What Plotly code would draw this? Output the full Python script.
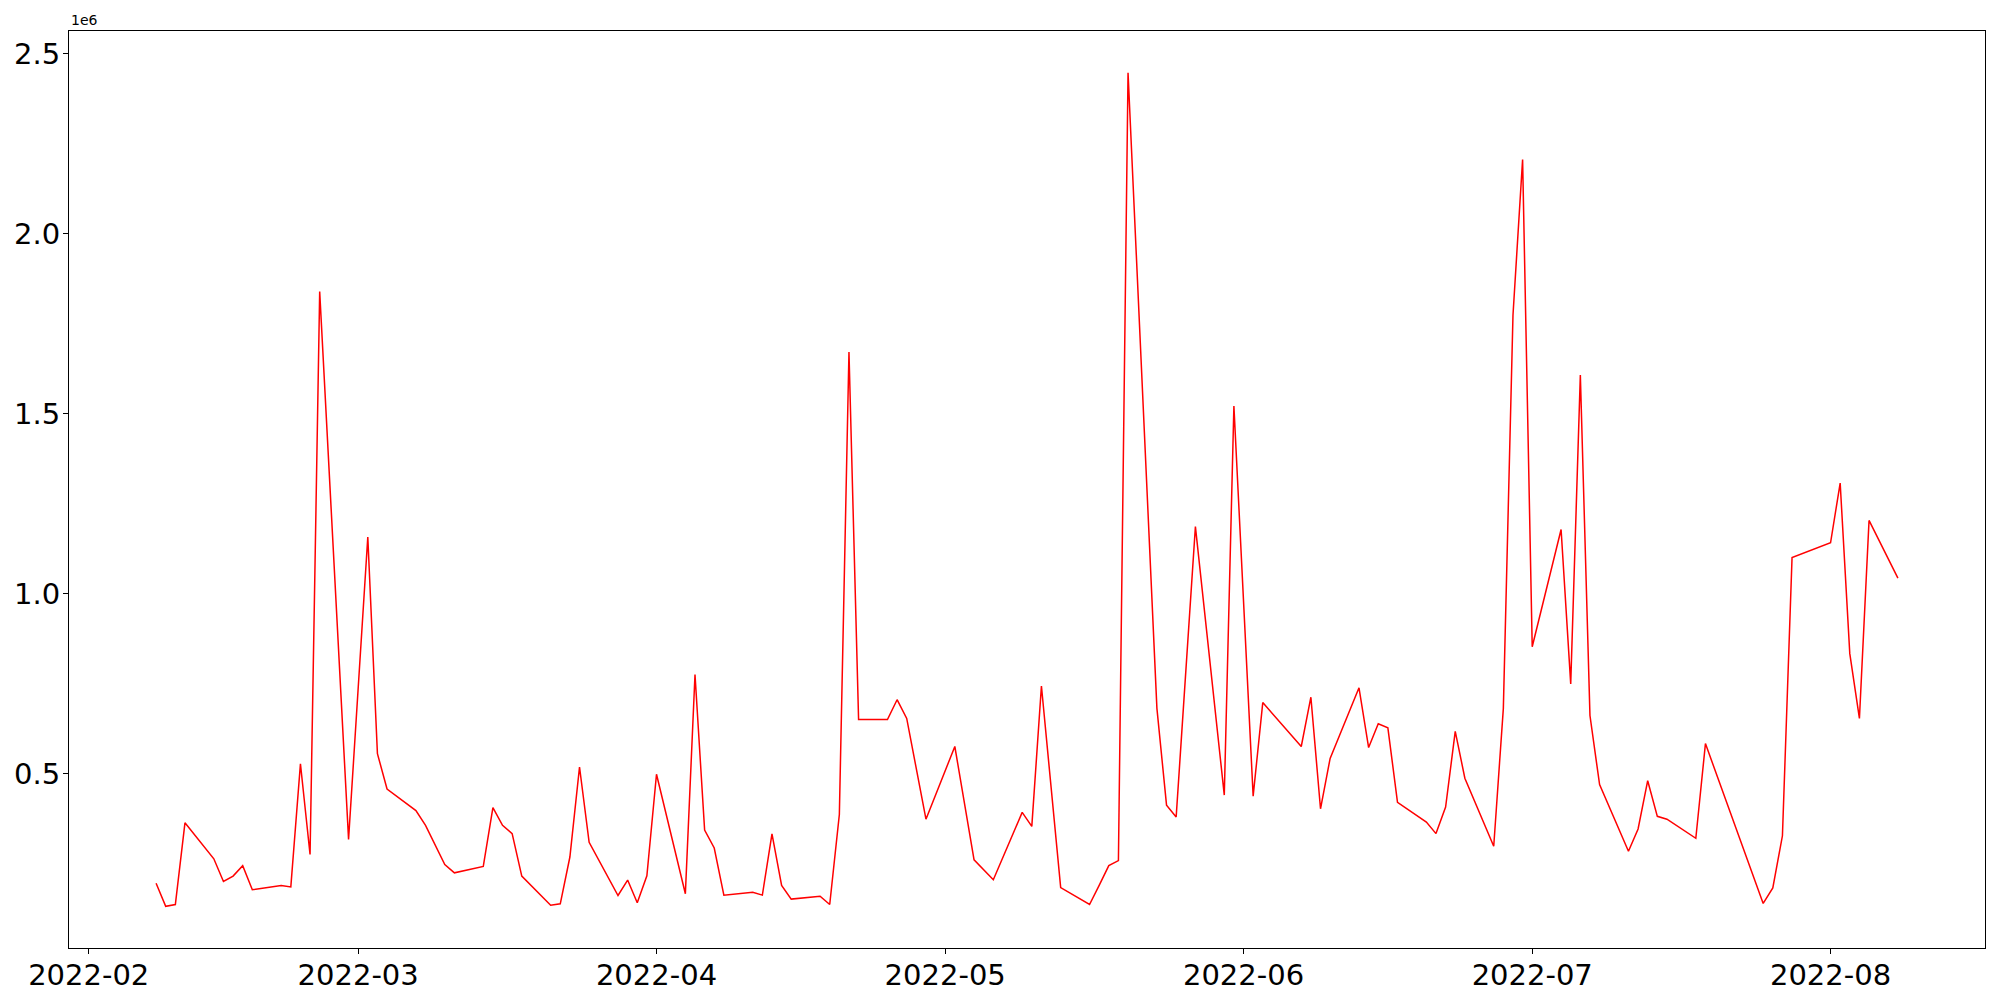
import plotly.graph_objects as go

dates = [
    "2022-02-08", "2022-02-09", "2022-02-10", "2022-02-11", "2022-02-14", "2022-02-15",
    "2022-02-16", "2022-02-17", "2022-02-18", "2022-02-21", "2022-02-22", "2022-02-23",
    "2022-02-24", "2022-02-25", "2022-02-28", "2022-03-02", "2022-03-03", "2022-03-04",
    "2022-03-07", "2022-03-08", "2022-03-10", "2022-03-11", "2022-03-14", "2022-03-15",
    "2022-03-16", "2022-03-17", "2022-03-18", "2022-03-21", "2022-03-22", "2022-03-23",
    "2022-03-24", "2022-03-25", "2022-03-28", "2022-03-29", "2022-03-30", "2022-03-31",
    "2022-04-01", "2022-04-04", "2022-04-05", "2022-04-06", "2022-04-07", "2022-04-08",
    "2022-04-11", "2022-04-12", "2022-04-13", "2022-04-14", "2022-04-15", "2022-04-18",
    "2022-04-19", "2022-04-20", "2022-04-21", "2022-04-22", "2022-04-25", "2022-04-26",
    "2022-04-27", "2022-04-29", "2022-05-02", "2022-05-04", "2022-05-06", "2022-05-09",
    "2022-05-10", "2022-05-11", "2022-05-13", "2022-05-16", "2022-05-17", "2022-05-18",
    "2022-05-19", "2022-05-20", "2022-05-23", "2022-05-24", "2022-05-25", "2022-05-27",
    "2022-05-30", "2022-05-31", "2022-06-02", "2022-06-03", "2022-06-07", "2022-06-08",
    "2022-06-09", "2022-06-10", "2022-06-13", "2022-06-14", "2022-06-15", "2022-06-16",
    "2022-06-17", "2022-06-20", "2022-06-21", "2022-06-22", "2022-06-23", "2022-06-24",
    "2022-06-27", "2022-06-28", "2022-06-29", "2022-06-30", "2022-07-01", "2022-07-04",
    "2022-07-05", "2022-07-06", "2022-07-07", "2022-07-08", "2022-07-11", "2022-07-12",
    "2022-07-13", "2022-07-14", "2022-07-15", "2022-07-18", "2022-07-19", "2022-07-25",
    "2022-07-26", "2022-07-27", "2022-07-28", "2022-08-01", "2022-08-02", "2022-08-03",
    "2022-08-04", "2022-08-05", "2022-08-08",
]

values = [
    196000, 132000, 137000, 364000, 264000, 201000,
    216000, 245000, 178000, 190000, 186000, 528000,
    276000, 1840000, 318000, 1158000, 556000, 458000,
    398000, 357000, 248000, 225000, 243000, 406000,
    357000, 334000, 216000, 135000, 139000, 269000,
    519000, 310000, 162000, 205000, 142000, 217000,
    499000, 167000, 776000, 344000, 294000, 163000,
    171000, 163000, 333000, 190000, 152000, 160000,
    137000, 387000, 1672000, 651000, 651000, 706000,
    654000, 374000, 576000, 261000, 206000, 393000,
    354000, 744000, 184000, 137000, 190000, 245000,
    259000, 2448000, 682000, 413000, 380000, 1187000,
    441000, 1522000, 438000, 698000, 576000, 713000,
    403000, 543000, 739000, 573000, 639000, 628000,
    421000, 366000, 334000, 408000, 618000, 488000,
    299000, 682000, 1774000, 2207000, 853000, 1179000,
    750000, 1608000, 662000, 470000, 285000, 347000,
    481000, 382000, 374000, 321000, 584000, 140000,
    183000, 328000, 1101000, 1142000, 1308000, 834000,
    654000, 1204000, 1044000,
]

x_tick_vals = ["2022-02-01", "2022-03-01", "2022-04-01", "2022-05-01",
               "2022-06-01", "2022-07-01", "2022-08-01"]
x_tick_text = ["2022-02", "2022-03", "2022-04", "2022-05", "2022-06", "2022-07", "2022-08"]
y_tick_vals = [500000, 1000000, 1500000, 2000000, 2500000]
y_tick_text = ["0.5", "1.0", "1.5", "2.0", "2.5"]

fig = go.Figure()
fig.add_trace(go.Scatter(x=dates, y=values, mode="lines",
                         line=dict(color="#ff0000", width=1.5), showlegend=False))

font = dict(family="DejaVu Sans", size=29, color="black")
fig.update_layout(
    width=1992, height=992,
    margin=dict(l=61, r=15, t=23, b=52),
    paper_bgcolor="white", plot_bgcolor="white",
    font=font,
    xaxis=dict(
        type="date", automargin=False,
        range=["2022-01-29 22:48", "2022-08-17 01:12"],
        tickmode="array", tickvals=x_tick_vals, ticktext=x_tick_text,
        ticks="outside", ticklen=5, tickwidth=1.1, tickcolor="black",
        ticklabelstandoff=-4,
        showline=True, linecolor="black", linewidth=1.1, mirror=True,
        showgrid=False, zeroline=False, tickfont=font,
    ),
    yaxis=dict(
        automargin=False,
        range=[16200, 2563800],
        tickmode="array", tickvals=y_tick_vals, ticktext=y_tick_text,
        ticks="outside", ticklen=5, tickwidth=1.1, tickcolor="black",
        ticklabelstandoff=-3,
        showline=True, linecolor="black", linewidth=1.1, mirror=True,
        showgrid=False, zeroline=False, tickfont=font,
    ),
    annotations=[dict(
        text="1e6", xref="paper", yref="paper", x=0, y=1,
        xanchor="left", yanchor="bottom", showarrow=False, yshift=1,
        font=dict(family="DejaVu Sans", size=14, color="black"),
    )],
)

fig.write_html("out.html")
